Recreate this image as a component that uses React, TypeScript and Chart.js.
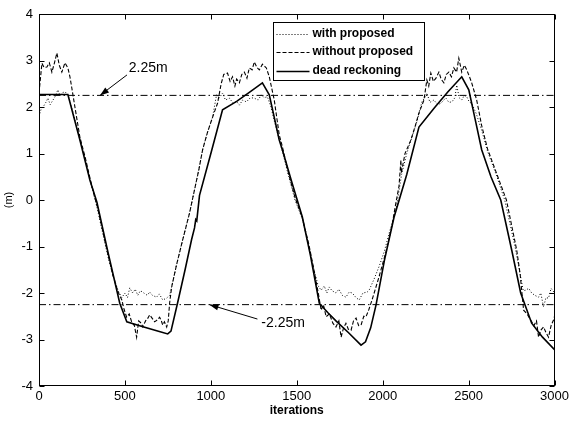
import { useEffect, useRef } from "react";
import { Chart, registerables } from "chart.js";

Chart.register(...registerables);

// ---- data ----
const xTickValues = [0, 500, 1000, 1500, 2000, 2500, 3000];
const yTickValues = [-4, -3, -2, -1, 0, 1, 2, 3, 4];
const refLevels = [2.25, -2.25];
const refLabels = ["2.25m", "-2.25m"];
const seriesNames = ["with proposed", "without proposed", "dead reckoning"];

const withIter = [0, 12, 24, 40, 52, 65, 75, 93, 110, 122, 133, 151, 168, 190, 210, 238, 270, 296, 320, 340, 370, 400, 430, 460, 482, 500, 515, 528, 545, 560, 575, 590, 610, 630, 644, 660, 684, 700, 720, 743, 760, 772, 800, 836, 876, 905, 930, 952, 980, 1010, 1033, 1050, 1068, 1085, 1108, 1130, 1150, 1166, 1185, 1207, 1230, 1253, 1275, 1294, 1310, 1329, 1350, 1369, 1398, 1416, 1450, 1490, 1532, 1570, 1600, 1625, 1642, 1660, 1675, 1689, 1705, 1728, 1745, 1765, 1786, 1805, 1823, 1845, 1863, 1885, 1910, 1921, 1950, 1979, 2010, 2037, 2077, 2110, 2140, 2170, 2200, 2228, 2245, 2257, 2275, 2298, 2320, 2339, 2355, 2368, 2385, 2403, 2420, 2431, 2445, 2460, 2475, 2489, 2505, 2518, 2545, 2576, 2610, 2660, 2710, 2770, 2800, 2818, 2832, 2850, 2867, 2885, 2907, 2920, 2936, 2950, 2965, 2980, 3000];
const withVals = [1.8, 1.95, 2.0, 2.1, 2.19, 2.05, 2.11, 2.22, 2.37, 2.25, 2.3, 2.33, 2.26, 2.0, 1.7, 1.3, 0.85, 0.45, 0.1, -0.2, -0.7, -1.2, -1.62, -1.95, -2.1, -2.0, -2.1, -1.89, -2.0, -1.92, -2.05, -1.95, -2.0, -2.05, -1.98, -2.05, -2.09, -2.02, -2.15, -2.11, -2.05, -1.87, -1.4, -0.86, -0.28, 0.22, 0.65, 1.08, 1.45, 1.78, 2.26, 2.2, 2.3, 2.15, 2.19, 2.08, 2.12, 2.04, 2.15, 2.11, 2.2, 2.19, 2.15, 2.26, 2.2, 2.22, 2.0, 1.7, 1.3, 1.05, 0.55, 0.0, -0.4, -1.0, -1.5, -1.85, -1.94, -1.85, -2.0, -1.87, -1.95, -2.0, -1.92, -2.05, -2.09, -1.98, -2.0, -2.1, -2.15, -2.0, -1.98, -1.94, -1.7, -1.43, -1.1, -0.72, -0.22, 0.55, 1.0, 1.35, 1.7, 2.11, 2.2, 2.3, 2.1, 2.15, 2.05, 2.08, 2.15, 2.19, 2.1, 2.11, 2.2, 2.47, 2.2, 2.15, 2.25, 2.22, 2.1, 2.08, 1.85, 1.5, 1.05, 0.55, 0.0, -1.0, -1.6, -1.95, -1.94, -1.9, -2.0, -2.05, -2.09, -2.0, -2.3, -2.1, -2.11, -1.9, -2.0];

const withoutIter = [0, 8, 17, 30, 46, 60, 75, 90, 104, 118, 133, 151, 168, 180, 190, 209, 238, 270, 296, 320, 340, 370, 400, 430, 460, 482, 495, 510, 525, 539, 555, 568, 580, 595, 604, 620, 632, 644, 660, 673, 688, 702, 712, 720, 730, 743, 752, 760, 772, 800, 836, 876, 905, 930, 952, 980, 1010, 1039, 1060, 1075, 1097, 1112, 1126, 1140, 1150, 1166, 1180, 1195, 1210, 1224, 1240, 1253, 1268, 1282, 1300, 1323, 1340, 1369, 1398, 1416, 1450, 1490, 1532, 1570, 1600, 1625, 1642, 1655, 1671, 1690, 1710, 1728, 1745, 1758, 1772, 1786, 1800, 1816, 1830, 1845, 1860, 1874, 1890, 1903, 1920, 1938, 1979, 2020, 2054, 2075, 2095, 2106, 2108, 2130, 2164, 2190, 2211, 2240, 2257, 2268, 2280, 2295, 2310, 2327, 2340, 2356, 2370, 2385, 2400, 2414, 2430, 2443, 2460, 2475, 2489, 2505, 2518, 2547, 2576, 2610, 2660, 2720, 2780, 2800, 2820, 2840, 2861, 2880, 2895, 2907, 2920, 2936, 2950, 2965, 2980, 2994, 3000];
const withoutVals = [2.3, 2.6, 2.94, 2.85, 2.86, 2.95, 2.75, 2.95, 3.16, 2.9, 2.75, 2.95, 2.84, 2.65, 2.43, 2.0, 1.35, 0.9, 0.48, 0.12, -0.15, -0.65, -1.15, -1.62, -1.98, -2.15, -2.35, -2.52, -2.45, -2.62, -2.7, -2.95, -2.6, -2.65, -2.73, -2.6, -2.55, -2.47, -2.55, -2.62, -2.58, -2.52, -2.6, -2.69, -2.62, -2.73, -2.6, -2.22, -1.87, -1.4, -0.86, -0.28, 0.22, 0.65, 1.08, 1.45, 1.78, 2.08, 2.5, 2.7, 2.73, 2.55, 2.65, 2.45, 2.6, 2.52, 2.7, 2.75, 2.62, 2.84, 2.8, 2.97, 2.85, 2.8, 2.92, 2.84, 2.65, 2.15, 1.4, 1.15, 0.6, 0.05, -0.38, -0.95, -1.5, -2.0, -2.37, -2.25, -2.51, -2.45, -2.65, -2.73, -2.6, -2.95, -2.75, -2.65, -2.78, -2.8, -2.6, -2.54, -2.7, -2.69, -2.5, -2.51, -2.35, -2.15, -1.65, -1.1, -0.55, -0.1, 0.3, 0.86, 0.58, 1.0, 1.29, 1.6, 1.87, 2.15, 2.58, 2.45, 2.73, 2.55, 2.62, 2.75, 2.6, 2.52, 2.7, 2.75, 2.65, 2.84, 2.75, 3.05, 2.75, 2.9, 2.8, 2.65, 2.52, 2.15, 1.6, 1.1, 0.6, 0.0, -1.08, -1.6, -2.37, -2.45, -2.58, -2.7, -2.6, -2.95, -2.8, -2.73, -2.85, -2.95, -2.7, -2.58, -2.5];

const deadIter = [0, 168, 238, 296, 337, 400, 470, 511, 600, 700, 749, 768, 806, 850, 888, 905, 912, 918, 934, 1000, 1068, 1150, 1230, 1300, 1340, 1398, 1416, 1470, 1532, 1580, 1631, 1680, 1728, 1800, 1874, 1900, 1930, 1961, 2010, 2066, 2140, 2211, 2300, 2380, 2460, 2501, 2540, 2576, 2630, 2687, 2751, 2803, 2867, 2930, 3000];
const deadVals = [2.27, 2.27, 1.29, 0.43, -0.05, -1.1, -2.22, -2.62, -2.72, -2.83, -2.88, -2.82, -2.22, -1.5, -0.85, -0.6, -0.42, -0.45, 0.1, 1.0, 1.94, 2.12, 2.33, 2.52, 2.26, 1.29, 1.08, 0.4, -0.36, -1.2, -2.22, -2.42, -2.6, -2.85, -3.12, -3.05, -2.75, -2.26, -1.3, -0.37, 0.55, 1.57, 1.98, 2.33, 2.65, 2.37, 1.7, 1.08, 0.5, 0.0, -1.08, -2.0, -2.65, -2.95, -3.22];

// annotation anchors in data units: [tipIter, tipVal, tailIter, tailVal, textIter, textVal]
const refArrows = [
  [355, 2.25, 512, 2.69, 522, 2.84],
  [992, -2.25, 1271, -2.56, 1294, -2.65],
];

const FONT = "'Liberation Sans', Arial, Helvetica, sans-serif";

function zip(xs: number[], ys: number[]) {
  const n = Math.min(xs.length, ys.length);
  const out: { x: number; y: number }[] = [];
  for (let i = 0; i < n; i++) out.push({ x: xs[i], y: ys[i] });
  return out;
}

const seriesStyles = [
  { dash: [1, 2], width: 1 },
  { dash: [4, 2], width: 1.1 },
  { dash: [], width: 1.6 },
];

const decorPlugin = {
  id: "decor",
  afterDraw(chart: any) {
    const { ctx, chartArea: a, scales } = chart;
    const xs = scales.x;
    const ys = scales.y;
    ctx.save();
    ctx.strokeStyle = "#000";
    ctx.fillStyle = "#000";
    ctx.lineWidth = 1;
    ctx.setLineDash([]);
    const L = Math.round(a.left) + 0.5;
    const R = Math.round(a.right) - 0.5;
    const T = Math.round(a.top) + 0.5;
    const B = Math.round(a.bottom) - 0.5;
    ctx.strokeRect(L, T, R - L, B - T);
    const tk = 5;
    ctx.beginPath();
    for (const v of xTickValues) {
      const px = Math.round(xs.getPixelForValue(v)) + 0.5;
      ctx.moveTo(px, B);
      ctx.lineTo(px, B - tk);
      ctx.moveTo(px, T);
      ctx.lineTo(px, T + tk);
    }
    for (const v of yTickValues) {
      const py = Math.round(ys.getPixelForValue(v)) + 0.5;
      ctx.moveTo(L, py);
      ctx.lineTo(L + tk, py);
      ctx.moveTo(R, py);
      ctx.lineTo(R - tk, py);
    }
    ctx.stroke();

    // arrows with labels
    ctx.font = `14px ${FONT}`;
    ctx.textBaseline = "middle";
    ctx.textAlign = "left";
    refArrows.forEach((r, i) => {
      const tx = xs.getPixelForValue(r[0]);
      const ty = ys.getPixelForValue(r[1]);
      const sx = xs.getPixelForValue(r[2]);
      const sy = ys.getPixelForValue(r[3]);
      ctx.beginPath();
      ctx.moveTo(sx, sy);
      ctx.lineTo(tx, ty);
      ctx.stroke();
      const ang = Math.atan2(ty - sy, tx - sx);
      const hl = 9;
      const hw = 3.2;
      ctx.beginPath();
      ctx.moveTo(tx, ty);
      ctx.lineTo(tx - hl * Math.cos(ang) + hw * Math.sin(ang), ty - hl * Math.sin(ang) - hw * Math.cos(ang));
      ctx.lineTo(tx - hl * Math.cos(ang) - hw * Math.sin(ang), ty - hl * Math.sin(ang) + hw * Math.cos(ang));
      ctx.closePath();
      ctx.fill();
      ctx.fillText(refLabels[i], xs.getPixelForValue(r[4]), ys.getPixelForValue(r[5]));
    });

    // legend
    const bx = Math.round(a.left + 234) + 0.5;
    const by = Math.round(a.top + 8) + 0.5;
    const bw = 151;
    const bh = 58;
    ctx.fillStyle = "#fff";
    ctx.fillRect(bx, by, bw, bh);
    ctx.strokeStyle = "#000";
    ctx.lineWidth = 1;
    ctx.strokeRect(bx, by, bw, bh);
    ctx.fillStyle = "#000";
    ctx.font = `bold 12px ${FONT}`;
    seriesNames.forEach((name, i) => {
      const yy = by + 11 + i * 18.5;
      ctx.setLineDash(seriesStyles[i].dash);
      ctx.lineWidth = seriesStyles[i].width;
      ctx.beginPath();
      ctx.moveTo(bx + 3, Math.round(yy) + 0.5);
      ctx.lineTo(bx + 36, Math.round(yy) + 0.5);
      ctx.stroke();
      ctx.setLineDash([]);
      ctx.fillText(name, bx + 39, yy);
    });
    ctx.restore();
  },
};

export default function App() {
  const ref = useRef<HTMLCanvasElement | null>(null);
  useEffect(() => {
    document.body.style.margin = "0";
    const canvas = ref.current;
    if (!canvas) return;
    const refDatasets = refLevels.map((lv) => ({
      label: "ref",
      data: [
        { x: 0, y: lv },
        { x: 3000, y: lv },
      ],
      borderColor: "#000",
      borderWidth: 1,
      borderDash: [7, 3, 1.5, 3],
      pointRadius: 0,
      fill: false,
    }));
    const seriesData = [zip(withIter, withVals), zip(withoutIter, withoutVals), zip(deadIter, deadVals)];
    const chart = new Chart(canvas, {
      type: "line",
      data: {
        datasets: [
          ...refDatasets,
          ...seriesData.map((d, i) => ({
            label: seriesNames[i],
            data: d,
            borderColor: "#000",
            borderWidth: seriesStyles[i].width,
            borderDash: seriesStyles[i].dash,
            pointRadius: 0,
            tension: 0,
            fill: false,
          })),
        ],
      },
      options: {
        responsive: false,
        animation: false,
        events: [],
        layout: { padding: { left: 0, right: 16, top: 14, bottom: 0 } },
        plugins: { legend: { display: false }, tooltip: { enabled: false } },
        scales: {
          x: {
            type: "linear",
            min: 0,
            max: 3000,
            afterBuildTicks: (s: any) => {
              s.ticks = xTickValues.map((v) => ({ value: v }));
            },
            afterFit: (s: any) => {
              s.height = 35;
            },
            grid: { display: false, drawTicks: false },
            border: { display: false },
            ticks: {
              color: "#000",
              padding: 3,
              maxRotation: 0,
              autoSkip: false,
              font: { family: FONT, size: 13 },
              callback: (v: any) => String(v),
            },
            title: {
              display: true,
              text: "iterations",
              color: "#000",
              font: { family: FONT, size: 12, weight: "bold" },
              padding: { top: 0, bottom: 3 },
            },
          },
          y: {
            type: "linear",
            min: -4,
            max: 4,
            afterBuildTicks: (s: any) => {
              s.ticks = yTickValues.map((v) => ({ value: v }));
            },
            afterFit: (s: any) => {
              s.width = 39;
            },
            grid: { display: false, drawTicks: false },
            border: { display: false },
            ticks: {
              color: "#000",
              padding: 6,
              autoSkip: false,
              font: { family: FONT, size: 13 },
              callback: (v: any) => String(v),
            },
            title: {
              display: true,
              text: "(m)",
              color: "#000",
              font: { family: FONT, size: 11 },
              padding: { top: 2, bottom: 0 },
            },
          },
        },
      },
      plugins: [decorPlugin],
    } as any);
    return () => chart.destroy();
  }, []);
  return (
    <div style={{ width: 572, height: 421, background: "#fff" }}>
      <canvas ref={ref} width={572} height={421} style={{ display: "block" }} />
    </div>
  );
}
